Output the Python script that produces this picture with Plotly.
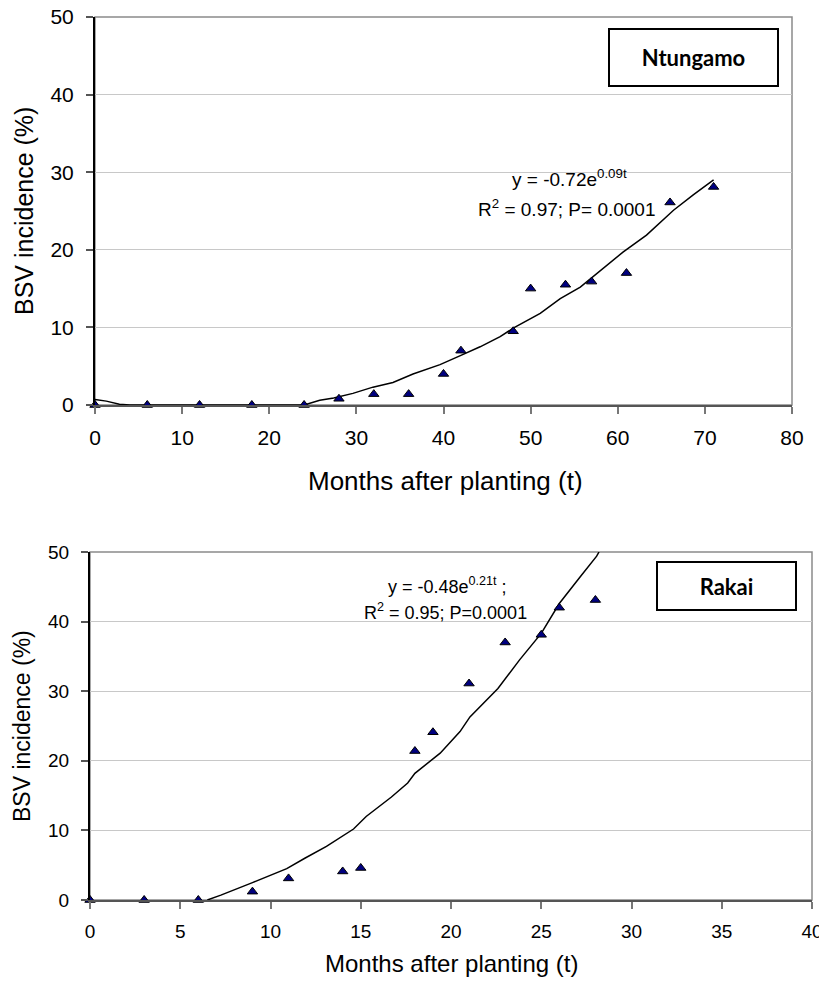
import plotly.graph_objects as go

# ---- Data: Ntungamo ----
ntu_t = [0, 6, 12, 18, 24, 28, 32, 36, 40, 42, 48, 50, 54, 57, 61, 66, 71]
ntu_inc = [0, 0, 0, 0, 0, 0.8, 1.4, 1.4, 4.0, 7.0, 9.5, 15.0, 15.5, 15.9, 17.0, 26.1, 28.1]
ntu_fit_t = [0, 1.3, 2.8, 4, 24, 25.8, 27.4, 29.6, 31.9, 34.2, 36.5, 39.6, 42, 44.2, 46.5, 48,
             51.1, 53.4, 55.7, 58.3, 60.6, 63.3, 66.4, 68.7, 71]
ntu_fit_y = [0.7, 0.5, 0.1, 0, 0, 0.6, 0.9, 1.5, 2.3, 2.9, 4.0, 5.2, 6.4, 7.5, 8.8, 9.9,
             11.8, 13.7, 15.2, 17.6, 19.7, 21.9, 25.1, 27.1, 29.0]

# ---- Data: Rakai ----
rak_t = [0, 3, 6, 9, 11, 14, 15, 18, 19, 21, 23, 25, 26, 28]
rak_inc = [0, 0, 0, 1.2, 3.1, 4.1, 4.6, 21.4, 24.1, 31.1, 37.0, 38.1, 42.0, 43.1]
rak_fit_t = [6.5, 7.25, 9.0, 10.9, 11.9, 13.1, 14.6, 15.3, 16.7, 17.6, 18.0, 19.4, 20.5,
             21.05, 22.6, 23.8, 25.0, 26.0, 27.15, 28.07, 28.2]
rak_fit_y = [0, 0.7, 2.5, 4.5, 6.0, 7.7, 10.2, 12.0, 14.8, 16.8, 18.2, 21.1, 24.2,
             26.3, 30.4, 34.5, 38.3, 42.6, 46.4, 49.4, 50]

# tick values
ntu_xticks = [0, 10, 20, 30, 40, 50, 60, 70, 80]
rak_xticks = [0, 5, 10, 15, 20, 25, 30, 35, 40]
yticks = [0, 10, 20, 30, 40, 50]

# the page body has an 8 px margin: the figure starts at (8, 8) in the window
OFF = 8
W, H = 827 - OFF, 982 - OFF
def px(x): return (x - OFF) / W
def py(y): return 1 - (y - OFF) / H

FONT = "Liberation Sans, Arial, sans-serif"
marker = dict(symbol="triangle-up", size=9, color="#000080", line=dict(color="black", width=1))
line = dict(color="black", width=1.5)

fig = go.Figure()
fig.add_trace(go.Scatter(x=ntu_fit_t, y=ntu_fit_y, mode="lines", line=line, xaxis="x", yaxis="y",
                         showlegend=False, hoverinfo="skip"))
fig.add_trace(go.Scatter(x=ntu_t, y=ntu_inc, mode="markers", marker=marker, xaxis="x", yaxis="y",
                         showlegend=False, cliponaxis=False))
fig.add_trace(go.Scatter(x=rak_fit_t, y=rak_fit_y, mode="lines", line=line, xaxis="x2", yaxis="y2",
                         showlegend=False, hoverinfo="skip"))
fig.add_trace(go.Scatter(x=rak_t, y=rak_inc, mode="markers", marker=marker, xaxis="x2", yaxis="y2",
                         showlegend=False, cliponaxis=False))

def xax(domain, rng, ticks, fs, anchor):
    return dict(domain=domain, range=rng, tickvals=ticks, ticks="outside", ticklen=7,
                tickcolor="#777", tickwidth=1.5, showline=True, linecolor="#555", linewidth=2,
                showgrid=False, zeroline=False, anchor=anchor, ticklabelstandoff=6,
                automargin=False, ticklabeloverflow="allow",
                tickfont=dict(family=FONT, size=fs, color="black"))

def yax(domain, fs, anchor):
    return dict(domain=domain, range=[0, 50], tickvals=yticks, ticks="outside", ticklen=7,
                tickcolor="#555", tickwidth=1.5, showline=True, linecolor="black", linewidth=2,
                showgrid=True, gridcolor="#c8c8c8", gridwidth=1, zeroline=False, anchor=anchor,
                ticklabelstandoff=8, automargin=False, ticklabeloverflow="allow",
                tickfont=dict(family=FONT, size=fs, color="black"))

top_x = [px(95), px(792)]
top_y = [py(405), py(17)]
bot_x = [px(90), px(812)]
bot_y = [py(900), py(552)]

ann = []
def txt(text, x, y, size, angle=0, **kw):
    d = dict(text=text, x=x, y=y, xref="paper", yref="paper", showarrow=False,
             textangle=angle, xanchor="center", yanchor="middle",
             font=dict(family=FONT, size=size, color="black"))
    d.update(kw)
    ann.append(d)

# axis titles
txt("Months after planting (t)", px(445), py(481), 26)
txt("BSV incidence (%)", px(24), py(211), 25, angle=-90)
txt("Months after planting (t)", px(452), py(963), 24)
txt("BSV incidence (%)", px(22), py(726), 23, angle=-90)

# equations
txt("y = -0.72e<sup>0.09t</sup>", px(569), py(178), 19)
txt("R<sup>2</sup> = 0.97; P= 0.0001", px(567), py(208), 19)
txt("y = -0.48e<sup>0.21t</sup> ;", px(447), py(585), 18)
txt("R<sup>2</sup> = 0.95; P=0.0001", px(445), py(611), 18)

# site labels (boxed)
for name, cx, cy, w, h in [("Ntungamo", 693.5, 57.5, 167, 55), ("Rakai", 726.5, 586, 137, 46)]:
    ann.append(dict(text="<b>%s</b>" % name, x=px(cx), y=py(cy), xref="paper", yref="paper",
                    showarrow=False, xanchor="center", yanchor="middle", width=w, height=h,
                    bordercolor="black", borderwidth=2, borderpad=0, bgcolor="white",
                    font=dict(family="Lato, Carlito, sans-serif", size=22, color="black")))

shapes = [
    dict(type="rect", xref="x domain", yref="y domain", x0=0, x1=1, y0=0, y1=1,
         line=dict(color="#8a8a8a", width=1.5), layer="below"),
    dict(type="rect", xref="x2 domain", yref="y2 domain", x0=0, x1=1, y0=0, y1=1,
         line=dict(color="#8a8a8a", width=1.5), layer="below"),
]

fig.update_layout(
    width=W, height=H, margin=dict(l=0, r=0, t=0, b=0, autoexpand=False),
    paper_bgcolor="white", plot_bgcolor="white",
    xaxis=xax(top_x, [0, 80], ntu_xticks, 21, "y"),
    yaxis=yax(top_y, 21, "x"),
    xaxis2=xax(bot_x, [0, 40], rak_xticks, 19, "y2"),
    yaxis2=yax(bot_y, 19, "x2"),
    annotations=ann, shapes=shapes, showlegend=False,
)

fig.write_html("out.html")
